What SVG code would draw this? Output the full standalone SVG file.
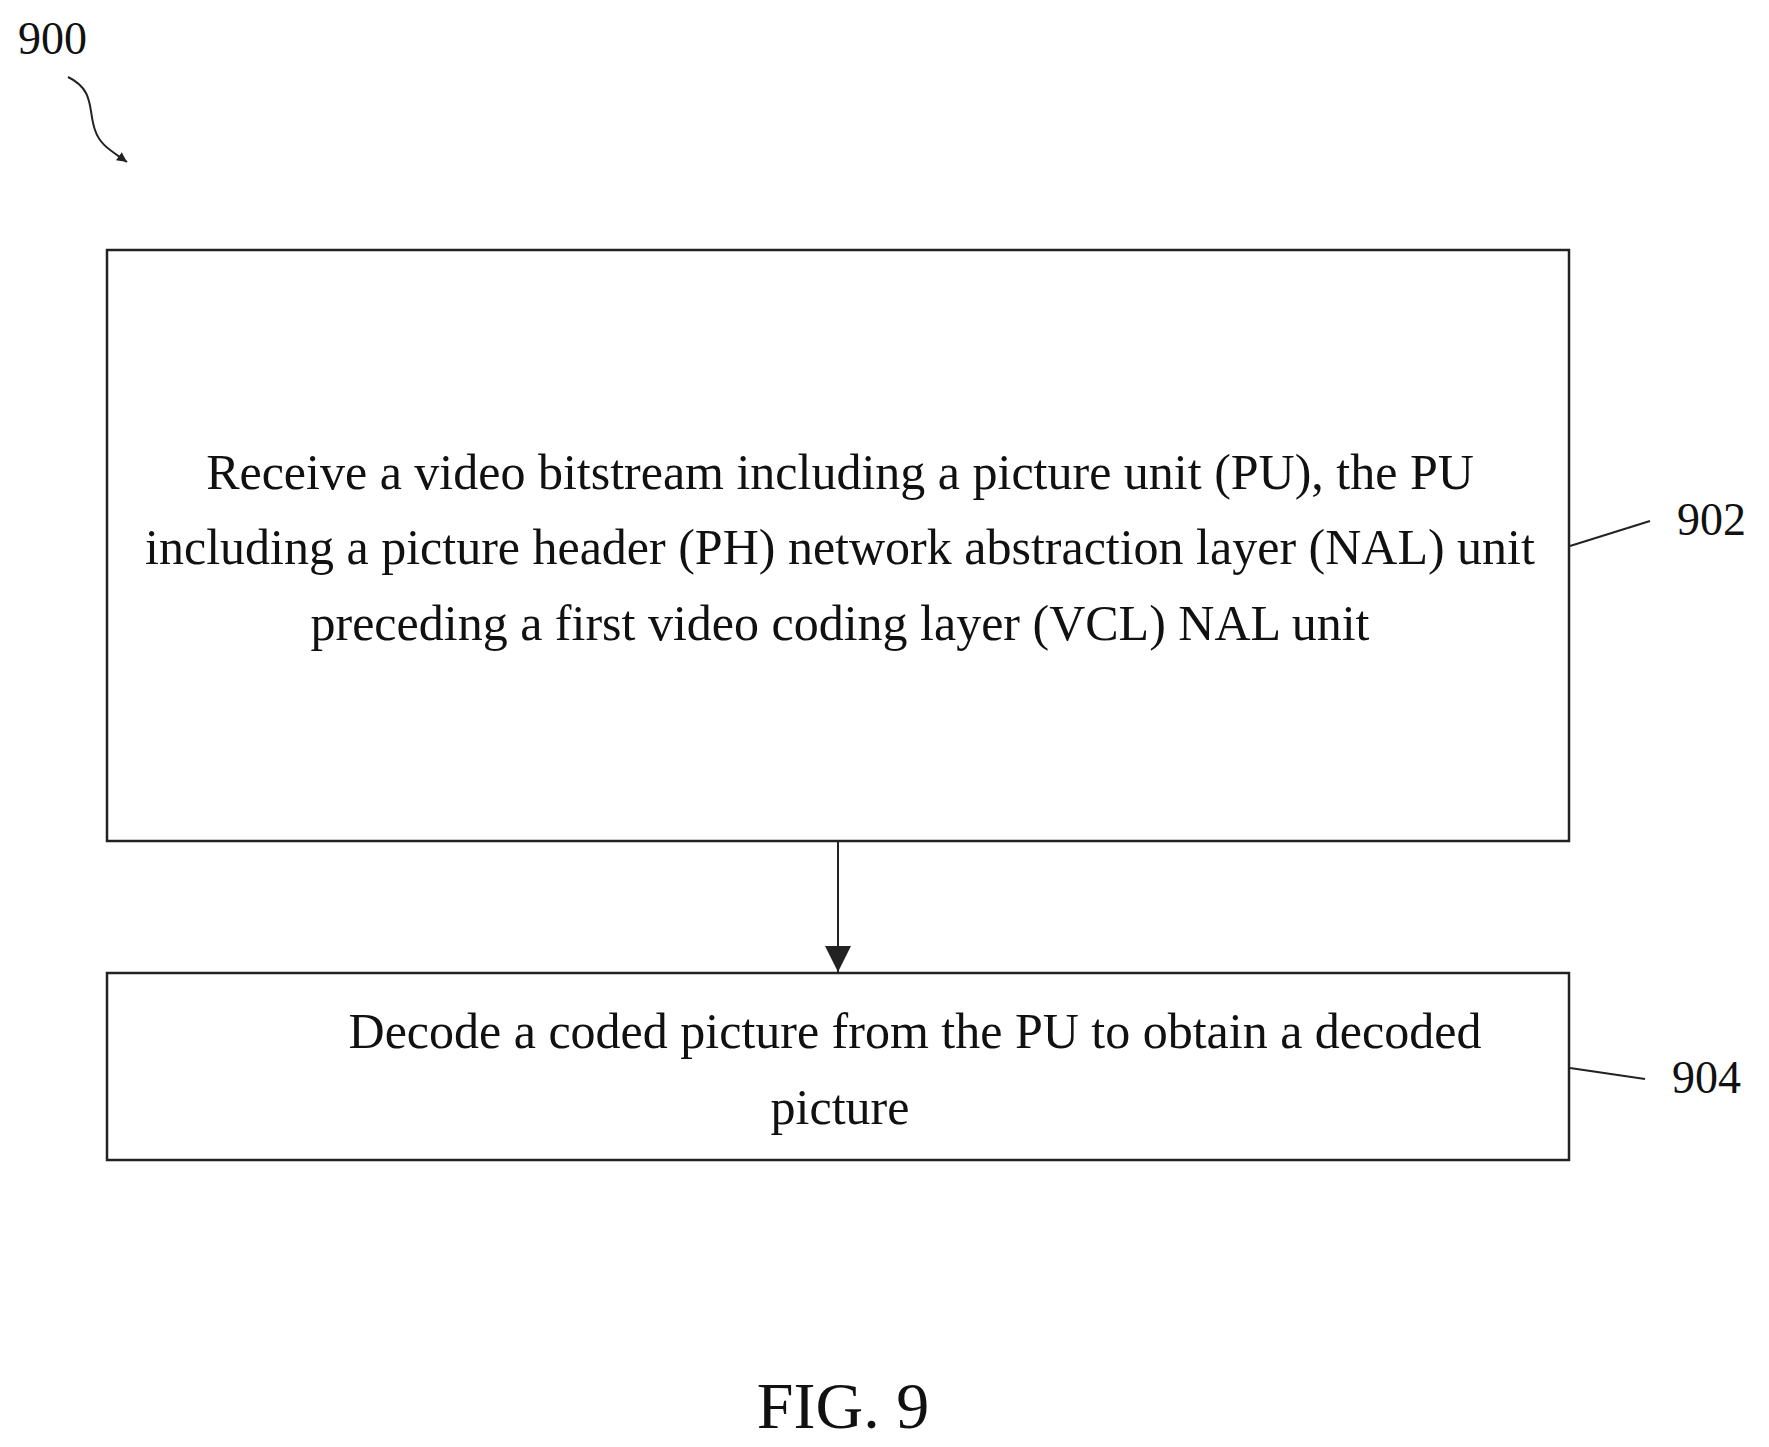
<svg xmlns="http://www.w3.org/2000/svg" width="1769" height="1447" viewBox="0 0 1769 1447">
<style>
text{font-family:"Liberation Serif","Times New Roman",serif;fill:#111}
.t{font-size:50px;text-anchor:middle}
.l{font-size:46px}
.b{fill:#fff;stroke:#222;stroke-width:2.5}
.c{stroke:#222;stroke-width:2;fill:none}
</style>
<defs><marker id="ah" viewBox="0 0 10 10" refX="10" refY="5" markerWidth="10" markerHeight="10" markerUnits="userSpaceOnUse" orient="auto"><path d="M0,0L10,5L0,10z" fill="#222"/></marker>
<marker id="ab" viewBox="0 0 10 10" refX="10" refY="5" markerWidth="26" markerHeight="26" markerUnits="userSpaceOnUse" orient="auto"><path d="M0,0L10,5L0,10z" fill="#222"/></marker></defs>
<g id="label900"><text class="l" x="18" y="54">900</text>
<path class="c" d="M68,77 C95,90 88,110 95,130 C100,145 110,150 127,162" marker-end="url(#ah)"/></g>
<g id="n902"><rect class="b" x="107" y="250" width="1462" height="591"/>
<text class="t" x="840" y="489">Receive a video bitstream including a picture unit (PU), the PU</text>
<text class="t" x="840" y="564">including a picture header (PH) network abstraction layer (NAL) unit</text>
<text class="t" x="840" y="640">preceding a first video coding layer (VCL) NAL unit</text>
<path class="c" d="M1570,546 L1650,521"/><text class="l" x="1677" y="535">902</text></g>
<g id="n904"><rect class="b" x="107" y="973" width="1462" height="187"/>
<text class="t" x="915" y="1048">Decode a coded picture from the PU to obtain a decoded</text>
<text class="t" x="840" y="1124">picture</text>
<path class="c" d="M1570,1068 L1645,1079"/><text class="l" x="1672" y="1093">904</text></g>
<g id="connectors"><path class="c" d="M838,841 L838,972" marker-end="url(#ab)"/></g>
<text x="843" y="1428" style="font-size:66px;text-anchor:middle">FIG. 9</text>
</svg>
